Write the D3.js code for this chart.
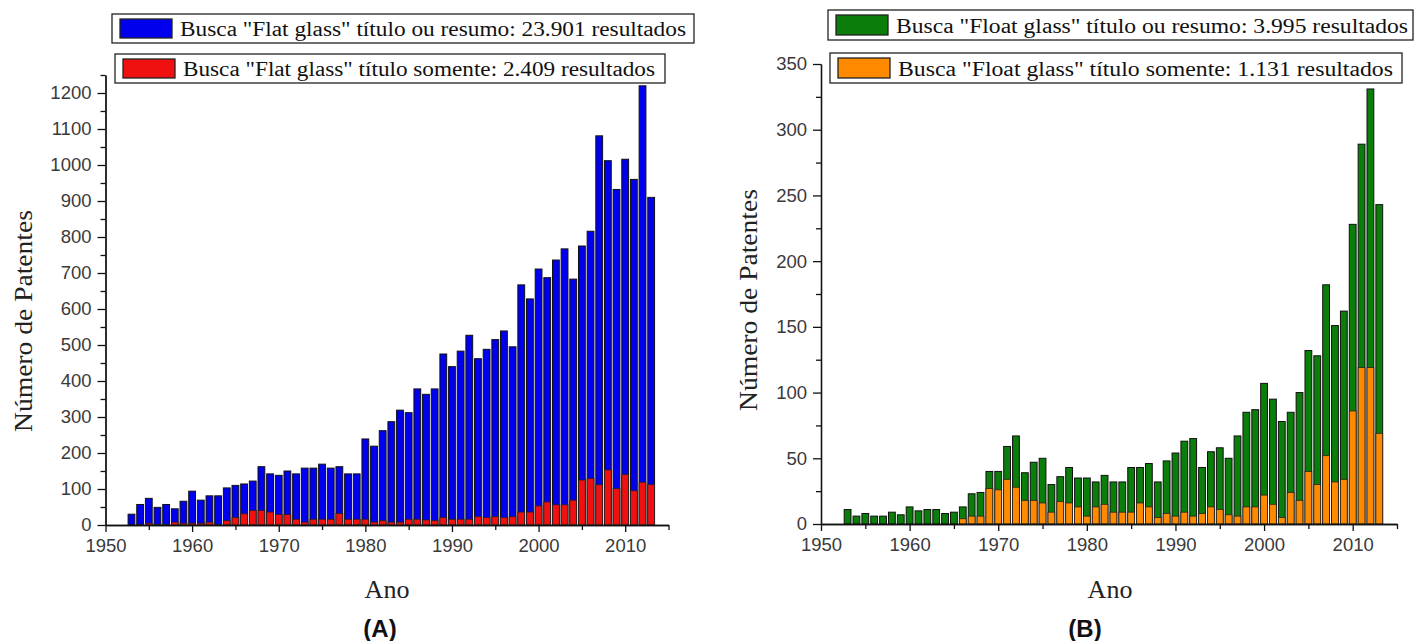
<!DOCTYPE html>
<html>
<head>
<meta charset="utf-8">
<script src="https://cdn.jsdelivr.net/npm/d3@7"></script>
<style>
  body { margin: 0; background: #fff; }
  svg { display: block; }
  .tick text { font-family: "Liberation Sans", Arial, sans-serif; font-size: 18.5px; fill: #3a3a3a; }
</style>
</head>
<body>
<svg id="chart" width="1415" height="641"></svg>
<script>
// ── 데이터 ──────────────────────────────────────────────
const years = [1953,1954,1955,1956,1957,1958,1959,1960,1961,1962,1963,1964,1965,1966,1967,1968,1969,
  1970,1971,1972,1973,1974,1975,1976,1977,1978,1979,1980,1981,1982,1983,1984,1985,1986,1987,1988,1989,
  1990,1991,1992,1993,1994,1995,1996,1997,1998,1999,2000,2001,2002,2003,2004,2005,2006,2007,2008,2009,
  2010,2011,2012,2013];

// (A) Flat glass
const flatTotal = [30,57,74,49,57,45,66,94,69,81,81,103,110,114,122,162,142,
  138,150,142,158,158,169,158,162,142,142,239,219,262,287,319,312,378,363,378,475,
  440,483,527,462,488,515,539,495,667,628,711,687,736,767,683,775,816,1081,1012,932,
  1016,960,1220,910];
const flatTitle = [0,2,5,2,2,8,5,5,5,8,2,12,21,31,40,40,36,
  29,29,16,8,16,16,16,32,16,16,16,8,12,8,8,16,16,14,12,21,
  16,16,16,23,21,23,21,23,36,36,53,64,56,56,69,125,129,112,153,101,
  140,95,119,112];

// (B) Float glass
const floatTotal = [11,6,8,6,6,9,7,13,10,11,11,8,9,13,23,24,40,
  40,59,67,39,47,50,30,36,43,35,35,32,37,32,32,43,43,46,32,48,
  54,63,65,43,55,58,50,67,85,87,107,95,78,85,100,132,128,182,151,162,
  228,289,331,243];
const floatTitle = [0,0,0,0,0,0,0,0,0,0,0,0,0,4,6,6,27,
  26,34,28,18,18,16,9,17,16,13,6,13,15,9,9,9,16,13,5,8,
  6,9,6,8,13,11,7,6,13,13,22,15,5,24,18,40,30,52,32,34,
  86,119,119,69];

const xTicksMajor = [1950,1960,1970,1980,1990,2000,2010];
const xTicksMinor = [1955,1965,1975,1985,1995,2005,2015];
const yTicksA = [0,100,200,300,400,500,600,700,800,900,1000,1100,1200];
const yTicksAMinor = [50,150,250,350,450,550,650,750,850,950,1050,1150,1250];
const yTicksB = [0,50,100,150,200,250,300,350];
const yTicksBMinor = [25,75,125,175,225,275,325];

const svg = d3.select("#chart");

// 패널 하나 그리기
function drawPanel(p) {
  const x = d3.scaleLinear().domain([1950, 2015]).range(p.xRange);
  const y = d3.scaleLinear().domain([0, p.yMax]).range(p.yRange);
  const g = svg.append("g");
  const bw = 6.8;

  // 전체 (뒤) 막대
  g.selectAll(".bar-total").data(years.map((yr, i) => ({ yr, v: p.total[i] })))
    .join("rect")
    .attr("x", d => x(d.yr) - bw / 2)
    .attr("y", d => y(d.v))
    .attr("width", bw)
    .attr("height", d => y(0) - y(d.v))
    .attr("fill", p.colors[0])
    .attr("stroke", "#111").attr("stroke-width", 1);

  // 제목만 (앞) 막대
  g.selectAll(".bar-title").data(years.map((yr, i) => ({ yr, v: p.title[i] })).filter(d => d.v > 0))
    .join("rect")
    .attr("x", d => x(d.yr) - bw / 2)
    .attr("y", d => y(d.v))
    .attr("width", bw)
    .attr("height", d => y(0) - y(d.v))
    .attr("fill", p.colors[1])
    .attr("stroke", "#222").attr("stroke-width", 0.8);

  // x축
  const y0 = y(0);
  g.append("g").attr("transform", `translate(0,${y0})`)
    .call(d3.axisBottom(x).tickValues(xTicksMinor).tickSize(5).tickFormat("").tickSizeOuter(0));
  g.append("g").attr("transform", `translate(0,${y0})`)
    .call(d3.axisBottom(x).tickValues(xTicksMajor).tickSize(7).tickPadding(7).tickFormat(d3.format("d")).tickSizeOuter(0));

  // y축
  const x0 = p.xRange[0];
  g.append("g").attr("transform", `translate(${x0},0)`)
    .call(d3.axisLeft(y).tickValues(p.yMinor).tickSize(5).tickFormat("").tickSizeOuter(0));
  g.append("g").attr("transform", `translate(${x0},0)`)
    .call(d3.axisLeft(y).tickValues(p.yMajor).tickSize(8).tickPadding(6).tickFormat(d3.format("d")).tickSizeOuter(0));

  g.selectAll(".domain, .tick line").attr("stroke", "#111").attr("stroke-width", 1.3);

  // 축 제목
  g.append("text")
    .attr("transform", `translate(${p.yLabelX},${p.yLabelY}) rotate(-90)`)
    .attr("text-anchor", "middle")
    .attr("font-family", "'Liberation Serif', 'Times New Roman', serif")
    .attr("font-size", 26).attr("fill", "#222")
    .attr("textLength", 222).attr("lengthAdjust", "spacingAndGlyphs")
    .text("Número de Patentes");
  g.append("text")
    .attr("x", p.xLabelX).attr("y", 598)
    .attr("text-anchor", "middle")
    .attr("font-family", "'Liberation Serif', 'Times New Roman', serif")
    .attr("font-size", 26).attr("fill", "#222")
    .text("Ano");
  g.append("text")
    .attr("x", p.tagX).attr("y", 637)
    .attr("text-anchor", "middle")
    .attr("font-family", "'Liberation Sans', Arial, sans-serif")
    .attr("font-weight", "bold")
    .attr("font-size", 24).attr("fill", "#111")
    .text(p.tag);

  // 범례 박스
  p.legend.forEach(l => {
    const lg = g.append("g");
    lg.append("rect").attr("x", l.x).attr("y", l.y).attr("width", l.w).attr("height", l.h)
      .attr("fill", "#fff").attr("stroke", "#222").attr("stroke-width", 1.3);
    lg.append("rect").attr("x", l.x + 8).attr("y", l.y + 5).attr("width", 52).attr("height", l.h - 10)
      .attr("fill", l.color).attr("stroke", "#222").attr("stroke-width", 1.3);
    lg.append("text").attr("x", l.x + 68).attr("y", l.y + l.h - 7)
      .attr("font-family", "'Liberation Serif', 'Times New Roman', serif")
      .attr("font-size", 20).attr("fill", "#111")
      .attr("textLength", l.tw).attr("lengthAdjust", "spacingAndGlyphs")
      .text(l.text);
  });
}

drawPanel({
  total: flatTotal, title: flatTitle,
  colors: ["#0000ee", "#f01010"],
  xRange: [105.5, 668.5], yRange: [525, 75], yMax: 1250,
  yMajor: yTicksA, yMinor: yTicksAMinor,
  yLabelX: 32, yLabelY: 321, xLabelX: 387, tagX: 380, tag: "(A)",
  legend: [
    { x: 112, y: 14, w: 582, h: 29, color: "#0000ee", tw: 506,
      text: "Busca \"Flat glass\" título ou resumo: 23.901 resultados" },
    { x: 115, y: 54, w: 550, h: 29, color: "#f01010", tw: 472,
      text: "Busca \"Flat glass\" título somente: 2.409 resultados" }
  ]
});

drawPanel({
  total: floatTotal, title: floatTitle,
  colors: ["#0a7d0a", "#ff8a00"],
  xRange: [821, 1397], yRange: [524, 64], yMax: 350,
  yMajor: yTicksB, yMinor: yTicksBMinor,
  yLabelX: 757, yLabelY: 300, xLabelX: 1110, tagX: 1085, tag: "(B)",
  legend: [
    { x: 828, y: 10, w: 585, h: 30, color: "#0a7d0a", tw: 512,
      text: "Busca \"Float glass\" título ou resumo: 3.995 resultados" },
    { x: 830, y: 53, w: 572, h: 30, color: "#ff8a00", tw: 495,
      text: "Busca \"Float glass\" título somente: 1.131 resultados" }
  ]
});
</script>
</body>
</html>
